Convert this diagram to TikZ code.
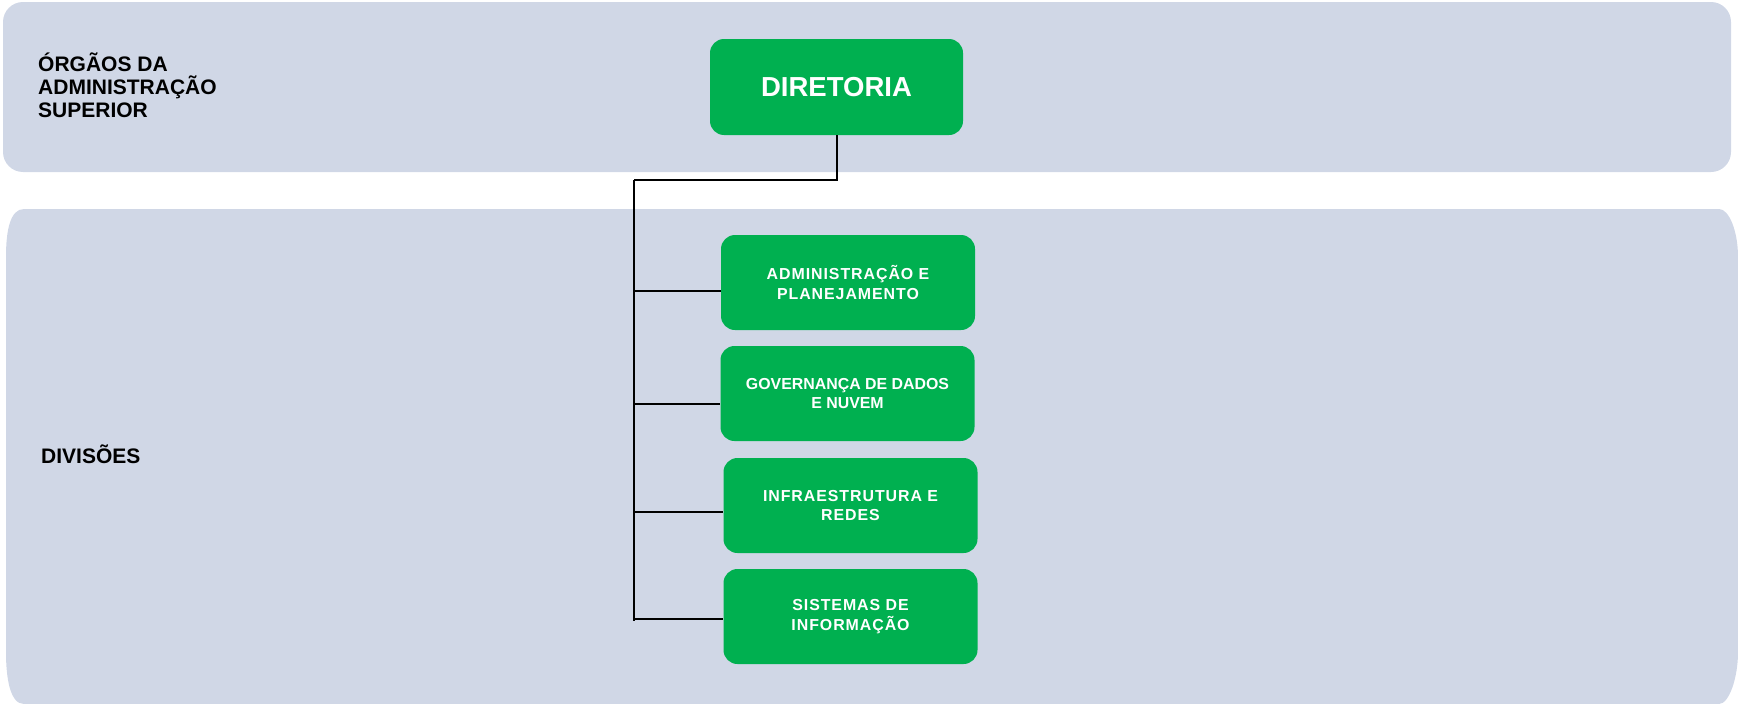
\documentclass[tikz,border=0pt]{standalone}
\usepackage{fontspec}
\setmainfont{Liberation Sans}
\newfontfamily\spacedfont[LetterSpace=6]{Liberation Sans}
\definecolor{band}{RGB}{208,215,230}
\definecolor{boxgreen}{RGB}{0,176,80}
\tikzset{
  divbox/.style={rounded corners=14pt, fill=boxgreen, minimum width=254pt, minimum height=95pt,
    text=white, align=center, inner sep=0pt},
  branch/.style={line width=1.3pt, black},
  trunk/.style={line width=2.2pt, black},
}
\begin{document}
\begin{tikzpicture}[x=1pt,y=-1pt]
\useasboundingbox (0,0) rectangle (1738,704);
% bands
\fill[band, rounded corners=20pt] (3,2) rectangle (1731,172);
\fill[band] (6,257) .. controls (6,231) and (10,209) .. (24,209) -- (1719,209)
  .. controls (1729,209) and (1738,231) .. (1738,257) -- (1738,652)
  .. controls (1738,678) and (1729,704) .. (1719,704) -- (24,704)
  .. controls (10,704) and (6,678) .. (6,652) -- cycle;
% labels
\node[anchor=base west, align=left, inner sep=0pt, font=\bfseries\fontsize{21}{23}\selectfont]
  (lsup) at (38,117) {ÓRGÃOS DA\\ADMINISTRAÇÃO\\SUPERIOR};
\node[anchor=base west, inner sep=0pt, font=\bfseries\fontsize{21}{23}\selectfont]
  (ldiv) at (41,463) {DIVISÕES};
% boxes
\node[divbox, minimum width=253pt, minimum height=96pt, font=\bfseries\fontsize{27.5}{30}\selectfont]
  (dir) at (836.5,87) {DIRETORIA};
\node[divbox, font=\spacedfont\bfseries\fontsize{15.9}{19.5}\selectfont] (b1) at (848,282.5) {ADMINISTRAÇÃO E\\PLANEJAMENTO};
\node[divbox, font=\bfseries\fontsize{15.9}{19.5}\selectfont] (b2) at (847.5,393.5) {GOVERNANÇA DE DADOS\\E NUVEM};
\node[divbox, font=\spacedfont\bfseries\fontsize{15.9}{19.5}\selectfont] (b3) at (850.5,505.5) {INFRAESTRUTURA E\\REDES};
\node[divbox, font=\spacedfont\bfseries\fontsize{15.9}{19.5}\selectfont] (b4) at (850.5,616.5) {SISTEMAS DE\\INFORMAÇÃO};
% connectors
\coordinate (j1) at (634,180);
\coordinate (tb) at (634,621);
\coordinate (t1) at (634,291);
\coordinate (t2) at (634,404);
\coordinate (t3) at (634,512);
\coordinate (t4) at (634,619);
\draw[line width=2pt] (dir.south) -- (dir.south |- j1) -- (j1);
\draw[trunk] (j1) -- (tb);
\draw[branch] (t1) -- (t1 -| b1.west);
\draw[branch] (t2) -- (t2 -| b2.west);
\draw[branch] (t3) -- (t3 -| b3.west);
\draw[branch] (t4) -- (t4 -| b4.west);
\end{tikzpicture}
\end{document}
